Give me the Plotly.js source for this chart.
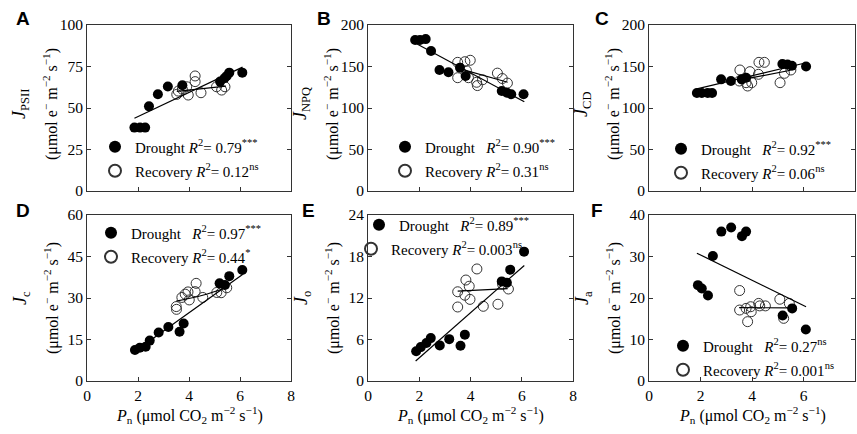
<!DOCTYPE html>
<html><head><meta charset="utf-8">
<script src="https://cdn.plot.ly/plotly-3.0.1.min.js"></script>
<style>html,body{margin:0;padding:0;background:#fff}#chart{width:857px;height:434px}</style>
</head><body><div id="chart"></div>
<script>
// ---- Data ----
const panelLetters = ['A','B','C','D','E','F'];
const yLabelNames = ['<i>J</i><sub>PSII</sub>','<i>J</i><sub>NPQ</sub>','<i>J</i><sub>CD</sub>','<i>J</i><sub>c</sub>','<i>J</i><sub>o</sub>','<i>J</i><sub>a</sub>'];
const xTickVals = [0,2,4,6,8];
const yTicksA = [0,25,50,75,100];
const yTicksB = [0,50,100,150,200];
const yTicksC = [0,50,100,150,200];
const yTicksD = [0,15,30,45,60];
const yTicksE = [0,6,12,18,24];
const yTicksF = [0,10,20,30,40];

const droughtR2 = ['0.79<sup>***</sup>','0.90<sup>***</sup>','0.92<sup>***</sup>','0.97<sup>***</sup>','0.89<sup>***</sup>','0.27<sup>ns</sup>'];
const recoveryR2 = ['0.12<sup>ns</sup>','0.31<sup>ns</sup>','0.06<sup>ns</sup>','0.44<sup>*</sup>','0.003<sup>ns</sup>','0.001<sup>ns</sup>'];

// Panel A
const xDrA = [1.86,2.08,2.28,2.43,2.78,3.17,3.74,5.22,5.39,5.48,5.58,6.09];
const yDrA = [38.2,38.2,38.2,51.0,58.3,63.0,63.7,65.9,67.9,69.3,71.3,71.3];
const xReA = [3.52,3.58,3.74,3.91,3.97,4.24,4.24,4.47,5.08,5.28,5.41];
const yReA = [58.2,60.2,61.3,62.8,57.8,69.3,65.9,59.2,62.8,60.8,62.8];
const fitDrAx = [1.86,6.1], fitDrAy = [43.8,74.6];
const fitReAx = [3.52,5.45], fitReAy = [60.0,63.2];
// Panel B
const xDrB = [1.84,2.03,2.25,2.46,2.79,3.14,3.59,3.81,5.22,5.42,5.59,6.07];
const yDrB = [182,182,183,168.7,145.8,143,148.6,138.6,120.5,118.4,116.5,116.5];
const xReB = [3.5,3.78,3.99,3.5,3.92,3.84,4.24,4.27,4.47,5.05,5.24,5.44];
const yReB = [155,155.8,157.5,136.5,136.5,145,131,127,134,142,135.5,130];
const fitDrBx = [1.86,6.1], fitDrBy = [178,107.5];
const fitReBx = [3.5,5.45], fitReBy = [148,131];
// Panel C
const xDrC = [1.86,2.05,2.28,2.45,2.8,3.18,3.6,3.77,5.18,5.38,5.55,6.1];
const yDrC = [118,118,118,118,134.5,132.5,134.5,136.5,153,152.5,151,150];
const xReC = [3.53,3.92,3.51,3.77,3.83,3.99,4.27,4.48,4.25,5.09,5.26,5.51];
const yReC = [145.8,143.8,132.5,130.5,126.5,130.5,155,155,140.6,130.5,141.8,145.8];
const fitDrCx = [1.86,6.1], fitDrCy = [123,154.5];
const fitReCx = [3.5,5.5], fitReCy = [133.5,145.5];
// Panel D
const xDrD = [1.88,2.07,2.3,2.46,2.81,3.19,3.63,3.79,5.2,5.41,5.58,6.09];
const yDrD = [11.2,12.0,12.4,14.6,17.5,19.5,17.8,20.8,35.3,34.7,37.9,40.1];
const xReD = [3.5,3.51,3.72,3.85,3.96,4.01,4.28,4.24,4.54,5.09,5.26,5.48];
const yReD = [26.9,25.9,30.2,31.4,32.2,29.3,35.3,32.3,30.2,32,31.9,33.7];
const fitDrDx = [1.86,6.1], fitDrDy = [10.6,38.5];
const fitReDx = [3.5,4.5,5.48], fitReDy = [28.9,30.9,33.8];
// Panel E
const xDrE = [1.88,2.06,2.28,2.45,2.8,3.17,3.61,3.78,5.22,5.42,5.55,6.09];
const yDrE = [4.3,4.9,5.5,6.2,5.15,6.05,5.1,6.7,14.4,14.2,16.1,18.7];
const xReE = [3.5,3.5,3.78,3.82,3.95,3.98,4.25,4.5,5.07,5.25,5.48];
const yReE = [12.9,10.7,12.4,14.6,13.7,11.8,16.2,10.8,11.1,14.0,13.3];
const fitDrEx = [1.86,6.1], fitDrEy = [2.9,16.7];
const fitReEx = [3.5,5.45], fitReEy = [13.0,13.35];
// Panel F
const xDrF = [1.9,2.05,2.29,2.48,2.81,3.19,3.61,3.77,5.19,5.56,6.09];
const yDrF = [23.1,22.3,20.6,30.1,36.0,37.0,34.9,36.0,15.8,17.5,12.4];
const xReF = [3.52,3.52,3.77,3.83,3.95,3.97,4.26,4.30,4.52,5.08,5.23,5.45];
const yReF = [21.8,17.1,17.5,14.3,17.9,16.7,18.7,18.1,18.1,19.7,15.1,18.7];
const fitDrFx = [1.86,6.1], fitDrFy = [30.8,17.9];
const fitReFx = [3.5,5.45], fitReFy = [17.7,17.6];

// ---- Build ----
const W = 857, H = 434;
const SERIF = 'Liberation Serif';
const SANS = 'Liberation Sans';
const AX = '#333';
const xPix = [[87,291],[368,573],[649,855]];
const yPix = [[25,191],[215,381]];
const px = v => v / W, py = v => 1 - v / H;

const panels = [
  {xd:xDrA,yd:yDrA,xr:xReA,yr:yReA,fdx:fitDrAx,fdy:fitDrAy,frx:fitReAx,fry:fitReAy,yt:yTicksA},
  {xd:xDrB,yd:yDrB,xr:xReB,yr:yReB,fdx:fitDrBx,fdy:fitDrBy,frx:fitReBx,fry:fitReBy,yt:yTicksB},
  {xd:xDrC,yd:yDrC,xr:xReC,yr:yReC,fdx:fitDrCx,fdy:fitDrCy,frx:fitReCx,fry:fitReCy,yt:yTicksC},
  {xd:xDrD,yd:yDrD,xr:xReD,yr:yReD,fdx:fitDrDx,fdy:fitDrDy,frx:fitReDx,fry:fitReDy,yt:yTicksD},
  {xd:xDrE,yd:yDrE,xr:xReE,yr:yReE,fdx:fitDrEx,fdy:fitDrEy,frx:fitReEx,fry:fitReEy,yt:yTicksE},
  {xd:xDrF,yd:yDrF,xr:xReF,yr:yReF,fdx:fitDrFx,fdy:fitDrFy,frx:fitReFx,fry:fitReFy,yt:yTicksF}
];
const legPos = [
  [[113,147],[113,171]],
  [[403,147],[403,171]],
  [[679,149],[679,173]],
  [[109,233],[109,257]],
  [[377,225],[369,249]],
  [[681,346],[681,370]]
];
const drSpace = ['\u00a0','\u00a0\u00a0\u00a0','\u00a0\u00a0\u00a0','\u00a0\u00a0\u00a0','\u00a0\u00a0\u00a0','\u00a0\u00a0\u00a0'];

const traces = [];
const layout = {
  width: W, height: H, margin:{l:0,r:0,t:0,b:0},
  paper_bgcolor:'#fff', plot_bgcolor:'#fff', showlegend:true,
  font:{family:SERIF, color:'#000', size:15},
  annotations: []
};
let legIdx = 1;
const legName = i => i === 1 ? 'legend' : 'legend' + i;

panels.forEach((p, i) => {
  const col = i % 3, row = Math.floor(i / 3);
  const n = i + 1;
  const xa = 'x' + (n === 1 ? '' : n), ya = 'y' + (n === 1 ? '' : n);
  const xk = 'xaxis' + (n === 1 ? '' : n), yk = 'yaxis' + (n === 1 ? '' : n);
  const [xl, xr] = xPix[col], [yt, yb] = yPix[row];
  const ymax = p.yt[p.yt.length - 1];
  layout[xk] = {
    domain:[px(xl), px(xr)], range:[0,8], anchor: ya,
    tickvals: xTickVals, ticktext: xTickVals.map(String),
    showticklabels: row === 1, ticks:'inside', ticklen:4, tickcolor:AX, tickwidth:1,
    showline:true, linecolor:AX, linewidth:1, mirror:true, showgrid:false, zeroline:false,
    tickfont:{family:SERIF, size:15.5, color:'#000'}, fixedrange:true
  };
  layout[yk] = {
    domain:[py(yb), py(yt)], range:[0,ymax], anchor: xa,
    tickvals: p.yt, ticktext: p.yt.map(String),
    ticks:'inside', ticklen:4, tickcolor:AX, tickwidth:1,
    showline:true, linecolor:AX, linewidth:1, mirror:'ticks', showgrid:false, zeroline:false,
    tickfont:{family:SERIF, size:15.5, color:'#000'}, fixedrange:true
  };
  const lD = legName(legIdx++), lR = legName(legIdx++);
  const mk = (pos) => ({x: px(pos[0] - 18), y: py(pos[1]), xanchor:'left', yanchor:'middle',
    bgcolor:'rgba(0,0,0,0)', borderwidth:0, itemsizing:'constant',
    font:{family:SERIF, size:15, color:'#000'}});
  layout[lD] = mk(legPos[i][0]);
  layout[lR] = mk(legPos[i][1]);

  traces.push({type:'scatter', mode:'markers', x:p.xr, y:p.yr, xaxis:xa, yaxis:ya,
    marker:{symbol:'circle-open', size:10, color:'#333', line:{width:1}},
    name:'Recovery <i>R</i><sup>2</sup>= ' + recoveryR2[i], legend:lR, showlegend:true});
  traces.push({type:'scatter', mode:'markers', x:p.xd, y:p.yd, xaxis:xa, yaxis:ya,
    marker:{symbol:'circle', size:10, color:'#000'},
    name:'Drought' + drSpace[i] + '<i>R</i><sup>2</sup>= ' + droughtR2[i], legend:lD, showlegend:true});
  traces.push({type:'scatter', mode:'lines', x:p.fdx, y:p.fdy, xaxis:xa, yaxis:ya,
    line:{color:'#000', width:1.2}, showlegend:false, hoverinfo:'skip'});
  traces.push({type:'scatter', mode:'lines', x:p.frx, y:p.fry, xaxis:xa, yaxis:ya,
    line:{color:'#000', width:1.2, shape: p.frx.length > 2 ? 'spline' : 'linear'}, showlegend:false, hoverinfo:'skip'});

  const yc = (yt + yb) / 2 - (row === 0 ? 4 : 0);
  layout.annotations.push({xref:'paper', yref:'paper', x:px(xl - 66), y:py(yc), text:yLabelNames[i],
    textangle:-90, showarrow:false, xanchor:'center', yanchor:'middle', font:{family:SERIF, size:18, color:'#000'}});
  layout.annotations.push({xref:'paper', yref:'paper', x:px(xl - 36), y:py(yc), text:'(μmol e<sup>−</sup> m<sup>−2</sup> s<sup>−1</sup>)',
    textangle:-90, showarrow:false, xanchor:'center', yanchor:'middle', font:{family:SERIF, size:16, color:'#000'}});
  if (row === 1) {
    layout.annotations.push({xref:'paper', yref:'paper', x:px((xl + xr) / 2), y:py(415),
      text:'<i>P</i><sub>n</sub> (μmol CO<sub>2</sub> m<sup>−2</sup> s<sup>−1</sup>)',
      showarrow:false, xanchor:'center', yanchor:'middle', font:{family:SERIF, size:16, color:'#000'}});
  }
});
const letterPos = [[23,18],[324,18],[602,19],[23,210],[308,210],[597,210]];
panelLetters.forEach((L, i) => {
  layout.annotations.push({xref:'paper', yref:'paper', x:px(letterPos[i][0]), y:py(letterPos[i][1]),
    text:'<b>' + L + '</b>', showarrow:false, xanchor:'center', yanchor:'middle',
    font:{family:SANS, size:19, color:'#000'}});
});

Plotly.newPlot('chart', traces, layout, {staticPlot:true, displayModeBar:false});
</script>
</body></html>
